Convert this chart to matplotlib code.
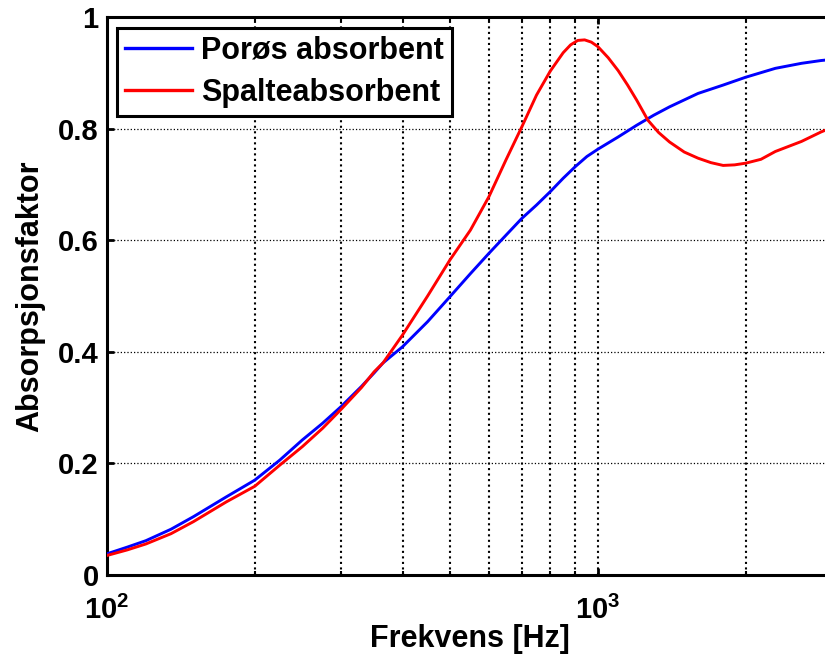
import matplotlib
matplotlib.use("Agg")
import matplotlib.pyplot as plt
from matplotlib.ticker import FixedLocator, FixedFormatter, NullFormatter

plt.rcParams['font.family'] = ['Liberation Sans', 'DejaVu Sans']
plt.rcParams['font.weight'] = 'bold'
plt.rcParams['mathtext.fontset'] = 'custom'
plt.rcParams['mathtext.rm'] = 'Liberation Sans:bold'
plt.rcParams['mathtext.bf'] = 'Liberation Sans:bold'

# ---- data ----
freq_poros = [100, 110, 120, 135, 150, 175, 200, 225, 250, 275, 300, 330, 350, 365,
              400, 450, 500, 550, 600, 650, 700, 750, 800, 850, 900, 950, 1000,
              1100, 1200, 1300, 1400, 1600, 1800, 2000, 2300, 2600, 2850, 3000]
alpha_poros = [0.038, 0.050, 0.0615, 0.082, 0.1045, 0.140, 0.170, 0.206, 0.242, 0.272,
               0.302, 0.338, 0.362, 0.380, 0.409, 0.454, 0.499, 0.540, 0.5765, 0.609,
               0.639, 0.663, 0.687, 0.711, 0.732, 0.750, 0.763,
               0.785, 0.806, 0.824, 0.839, 0.863, 0.878, 0.892, 0.908, 0.917, 0.922, 0.924]

freq_spalte = [100, 110, 120, 135, 150, 175, 200, 225, 250, 275, 300, 330, 350, 365,
               400, 450, 500, 550, 600, 650, 700, 750, 800, 850, 880, 910, 940, 970, 1000,
               1050, 1100, 1150, 1200, 1265, 1330, 1400, 1500, 1600, 1700, 1800, 1900,
               2000, 2150, 2300, 2600, 2850, 3000]
alpha_spalte = [0.035, 0.045, 0.0556, 0.074, 0.0956, 0.131, 0.159, 0.197, 0.230, 0.263,
                0.297, 0.336, 0.364, 0.380, 0.430, 0.500, 0.565, 0.618, 0.678, 0.744,
                0.803, 0.860, 0.903, 0.936, 0.950, 0.958, 0.959, 0.955, 0.947,
                0.927, 0.904, 0.878, 0.851, 0.815, 0.793, 0.776, 0.758, 0.747, 0.739,
                0.734, 0.735, 0.738, 0.745, 0.759, 0.777, 0.794, 0.802]

labels = ['Porøs absorbent', 'Spalteabsorbent']
yticks = [0, 0.2, 0.4, 0.6, 0.8, 1.0]
ytick_labels = ['0', '0.2', '0.4', '0.6', '0.8', '1']
xmajor = [100, 1000]
xmajor_labels = [r'$\mathbf{10^{2}}$', r'$\mathbf{10^{3}}$']
xminor = [200, 300, 400, 500, 600, 700, 800, 900, 2000, 3000]

W, H = 825, 661
fig = plt.figure(figsize=(W / 100, H / 100), dpi=100)
ax = fig.add_axes([107 / W, (H - 575) / H, (832 - 107) / W, (575 - 17) / H])

ax.plot(freq_poros, alpha_poros, color='#0000ff', lw=2.1, label=labels[0], zorder=3)
ax.plot(freq_spalte, alpha_spalte, color='#ff0000', lw=2.1, label=labels[1], zorder=3)

ax.set_xscale('log')
ax.set_xlim(100, 3000)
ax.set_ylim(0, 1)

ax.xaxis.set_major_locator(FixedLocator(xmajor))
ax.xaxis.set_major_formatter(FixedFormatter(xmajor_labels))
ax.xaxis.set_minor_locator(FixedLocator(xminor))
ax.xaxis.set_minor_formatter(NullFormatter())
ax.yaxis.set_major_locator(FixedLocator(yticks))
ax.yaxis.set_major_formatter(FixedFormatter(ytick_labels))

ax.xaxis.grid(True, which='both', ls=':', lw=1.5, color='k')
ax.yaxis.grid(True, which='major', ls=':', lw=0.9, color='k')
ax.set_axisbelow(True)

ax.tick_params(axis='both', which='major', direction='in', length=5, width=2,
               labelsize=21, top=True, right=True)
ax.tick_params(axis='x', which='major', pad=15)
ax.tick_params(axis='y', which='major', pad=6)
ax.tick_params(axis='x', which='minor', direction='in', length=3, width=1.5,
               top=True)
for s in ax.spines.values():
    s.set_linewidth(2.2)
    s.set_color('k')

ax.set_xlabel('Frekvens [Hz]', fontsize=22, fontweight='bold', labelpad=-1)
ax.set_ylabel('Absorpsjonsfaktor', fontsize=22, fontweight='bold', labelpad=9)

leg = ax.legend(loc='upper left', bbox_to_anchor=(10 / 725, 1 - 11 / 558),
                borderaxespad=0, fancybox=False, framealpha=1, edgecolor='k',
                prop={'size': 22, 'weight': 'bold'}, handlelength=2.2,
                handletextpad=0.3, borderpad=0.26, labelspacing=0.4)
leg.get_frame().set_linewidth(2.2)
for line in leg.get_lines():
    line.set_linewidth(2.4)

fig.savefig('out.png', dpi=100)
